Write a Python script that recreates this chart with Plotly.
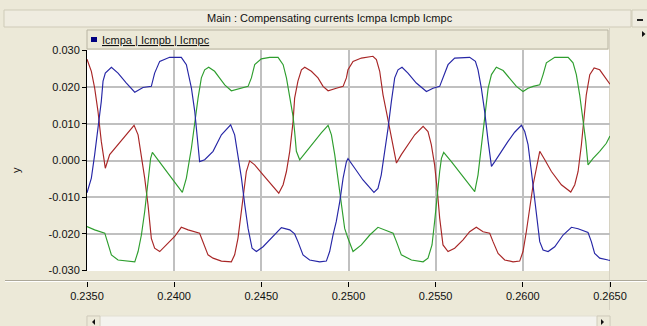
import plotly.graph_objects as go

# ---------------- data ----------------
red_t = [0.23500, 0.23525, 0.23544, 0.23563, 0.23582, 0.23605, 0.23630, 0.23678, 0.23726, 0.23770,
         0.23793, 0.23812, 0.23831, 0.23850, 0.23869, 0.23888, 0.23917, 0.23955, 0.24003, 0.24041,
         0.24080, 0.24146, 0.24166, 0.24194, 0.24223, 0.24271, 0.24328, 0.24347, 0.24366, 0.24386,
         0.24401, 0.24414, 0.24433, 0.24462, 0.24510, 0.24558, 0.24600, 0.24625, 0.24644, 0.24663,
         0.24682, 0.24691, 0.24710, 0.24730, 0.24749, 0.24787, 0.24825, 0.24854, 0.24883, 0.24930,
         0.24969, 0.24988, 0.24997, 0.25026, 0.25074, 0.25140, 0.25160, 0.25179, 0.25198, 0.25217,
         0.25236, 0.25256, 0.25275, 0.25303, 0.25342, 0.25380, 0.25428, 0.25456, 0.25475, 0.25494,
         0.25510, 0.25523, 0.25542, 0.25571, 0.25609, 0.25657, 0.25695, 0.25733, 0.25772, 0.25810,
         0.25829, 0.25858, 0.25896, 0.25944, 0.25982, 0.26001, 0.26020, 0.26040, 0.26059, 0.26078,
         0.26097, 0.26126, 0.26164, 0.26221, 0.26275, 0.26298, 0.26317, 0.26336, 0.26351, 0.26364,
         0.26384, 0.26409, 0.26441, 0.26470, 0.26500]
red_y = [0.0276, 0.0243, 0.0197, 0.0134, 0.0052, -0.0021, 0.0016, 0.0043, 0.0070, 0.0096,
         0.0070, 0.0016, -0.0048, -0.0121, -0.0212, -0.0239, -0.0248, -0.0230, -0.0207, -0.0182,
         -0.0189, -0.0198, -0.0221, -0.0257, -0.0266, -0.0274, -0.0276, -0.0257, -0.0212, -0.0139,
         -0.0085, -0.0030, -0.0001, -0.0012, -0.0039, -0.0066, -0.0089, -0.0066, -0.0030, 0.0025,
         0.0106, 0.0170, 0.0216, 0.0247, 0.0254, 0.0243, 0.0225, 0.0202, 0.0190, 0.0197,
         0.0202, 0.0225, 0.0247, 0.0270, 0.0279, 0.0284, 0.0275, 0.0243, 0.0179, 0.0134,
         0.0088, 0.0034, -0.0007, 0.0016, 0.0043, 0.0070, 0.0093, 0.0079, 0.0043, -0.0012,
         -0.0085, -0.0157, -0.0230, -0.0248, -0.0239, -0.0216, -0.0194, -0.0182, -0.0194, -0.0198,
         -0.0221, -0.0253, -0.0271, -0.0276, -0.0274, -0.0248, -0.0194, -0.0130, -0.0066, -0.0021,
         0.0025, 0.0002, -0.0030, -0.0066, -0.0086, -0.0066, -0.0030, 0.0043, 0.0116, 0.0179,
         0.0234, 0.0252, 0.0247, 0.0229, 0.0208]

blue_t = [0.23500, 0.23525, 0.23544, 0.23563, 0.23582, 0.23592, 0.23605, 0.23640, 0.23678, 0.23726,
          0.23774, 0.23821, 0.23869, 0.23888, 0.23917, 0.23974, 0.24041, 0.24070, 0.24099, 0.24118,
          0.24133, 0.24146, 0.24175, 0.24223, 0.24271, 0.24324, 0.24347, 0.24366, 0.24386, 0.24405,
          0.24424, 0.24447, 0.24472, 0.24510, 0.24558, 0.24615, 0.24663, 0.24691, 0.24710, 0.24739,
          0.24777, 0.24835, 0.24873, 0.24892, 0.24911, 0.24930, 0.24950, 0.24969, 0.24988, 0.24997,
          0.25036, 0.25083, 0.25146, 0.25169, 0.25188, 0.25208, 0.25227, 0.25246, 0.25265, 0.25284,
          0.25307, 0.25341, 0.25389, 0.25447, 0.25485, 0.25523, 0.25542, 0.25571, 0.25609, 0.25695,
          0.25728, 0.25743, 0.25762, 0.25781, 0.25801, 0.25820, 0.25839, 0.25877, 0.25915, 0.25953,
          0.25992, 0.26011, 0.26030, 0.26049, 0.26064, 0.26078, 0.26097, 0.26116, 0.26145, 0.26183,
          0.26231, 0.26279, 0.26317, 0.26374, 0.26393, 0.26412, 0.26441, 0.26489, 0.26500]
blue_y = [-0.0088, -0.0048, 0.0016, 0.0088, 0.0161, 0.0216, 0.0238, 0.0254, 0.0238, 0.0211,
          0.0186, 0.0199, 0.0202, 0.0238, 0.0270, 0.0281, 0.0281, 0.0261, 0.0197, 0.0134,
          0.0061, -0.0003, 0.0002, 0.0025, 0.0070, 0.0097, 0.0070, 0.0016, -0.0048, -0.0121,
          -0.0185, -0.0239, -0.0248, -0.0235, -0.0212, -0.0183, -0.0189, -0.0200, -0.0221, -0.0257,
          -0.0271, -0.0276, -0.0274, -0.0248, -0.0203, -0.0166, -0.0112, -0.0048, -0.0003, 0.0005,
          -0.0021, -0.0053, -0.0087, -0.0076, -0.0039, 0.0025, 0.0088, 0.0161, 0.0225, 0.0247,
          0.0254, 0.0238, 0.0211, 0.0188, 0.0197, 0.0202, 0.0225, 0.0261, 0.0279, 0.0281,
          0.0270, 0.0247, 0.0197, 0.0134, 0.0052, -0.0016, -0.0003, 0.0025, 0.0052, 0.0077,
          0.0096, 0.0079, 0.0043, -0.0030, -0.0085, -0.0148, -0.0221, -0.0244, -0.0248, -0.0235,
          -0.0203, -0.0182, -0.0186, -0.0196, -0.0221, -0.0253, -0.0266, -0.0271, -0.0272]

green_t = [0.23500, 0.23544, 0.23602, 0.23621, 0.23640, 0.23678, 0.23774, 0.23793, 0.23812, 0.23831,
           0.23850, 0.23865, 0.23875, 0.23908, 0.23965, 0.24047, 0.24070, 0.24099, 0.24118, 0.24137,
           0.24156, 0.24175, 0.24198, 0.24232, 0.24260, 0.24290, 0.24328, 0.24376, 0.24424, 0.24443,
           0.24462, 0.24500, 0.24548, 0.24596, 0.24625, 0.24644, 0.24663, 0.24682, 0.24691, 0.24701,
           0.24720, 0.24758, 0.24806, 0.24844, 0.24883, 0.24902, 0.24921, 0.24940, 0.24959, 0.24978,
           0.24997, 0.25026, 0.25074, 0.25122, 0.25169, 0.25208, 0.25256, 0.25275, 0.25303, 0.25361,
           0.25428, 0.25456, 0.25479, 0.25494, 0.25510, 0.25523, 0.25533, 0.25546, 0.25590, 0.25647,
           0.25695, 0.25724, 0.25743, 0.25762, 0.25781, 0.25801, 0.25820, 0.25848, 0.25887, 0.25925,
           0.25963, 0.26001, 0.26030, 0.26059, 0.26097, 0.26116, 0.26135, 0.26183, 0.26260, 0.26288,
           0.26307, 0.26326, 0.26345, 0.26361, 0.26374, 0.26403, 0.26441, 0.26479, 0.26500]
green_y = [-0.0180, -0.0189, -0.0198, -0.0230, -0.0257, -0.0271, -0.0276, -0.0248, -0.0203, -0.0139,
           -0.0066, 0.0006, 0.0022, 0.0002, -0.0035, -0.0087, -0.0048, 0.0034, 0.0106, 0.0170,
           0.0225, 0.0247, 0.0254, 0.0243, 0.0225, 0.0206, 0.0190, 0.0197, 0.0202, 0.0225,
           0.0261, 0.0277, 0.0281, 0.0281, 0.0261, 0.0225, 0.0170, 0.0120, 0.0079, 0.0025,
           0.0002, 0.0025, 0.0052, 0.0075, 0.0096, 0.0070, 0.0016, -0.0048, -0.0112, -0.0185,
           -0.0212, -0.0248, -0.0230, -0.0203, -0.0182, -0.0189, -0.0198, -0.0221, -0.0257, -0.0271,
           -0.0276, -0.0266, -0.0230, -0.0166, -0.0085, -0.0030, 0.0006, 0.0022, -0.0003, -0.0039,
           -0.0066, -0.0085, -0.0039, 0.0043, 0.0125, 0.0197, 0.0234, 0.0254, 0.0245, 0.0225,
           0.0202, 0.0188, 0.0197, 0.0202, 0.0206, 0.0234, 0.0266, 0.0281, 0.0281, 0.0266,
           0.0234, 0.0179, 0.0116, 0.0052, -0.0012, 0.0006, 0.0025, 0.0047, 0.0067]

x_tickvals = [0.235, 0.240, 0.245, 0.250, 0.255, 0.260, 0.265]
x_ticktext = ["0.2350", "0.2400", "0.2450", "0.2500", "0.2550", "0.2600", "0.2650"]
y_tickvals = [-0.03, -0.02, -0.01, 0.0, 0.01, 0.02, 0.03]
y_ticktext = ["-0.030", "-0.020", "-0.010", "0.000", "0.010", "0.020", "0.030"]

title_text = "Main : Compensating currents Icmpa Icmpb Icmpc"
legend_text = "Icmpa | Icmpb | Icmpc"
y_title = "y"

# ---------------- layout geometry ----------------
W, H = 647, 326
ML, MR, MT, MB = 87, 37, 50, 45
PW = W - ML - MR          # 523
PH = H - MT - MB          # 231
FONT = "Liberation Sans, Arial, sans-serif"
BG = "#ECE9D8"


def px(xp):
    return (xp - ML) / PW


def py(yp):
    return (H - MB - yp) / PH


fig = go.Figure()
line_w = 1.15
fig.add_trace(go.Scatter(x=red_t, y=red_y, mode="lines", line=dict(color="#a82626", width=line_w),
                         name="Icmpb", showlegend=False, hoverinfo="skip"))
fig.add_trace(go.Scatter(x=green_t, y=green_y, mode="lines", line=dict(color="#2e9e2e", width=line_w),
                         name="Icmpc", showlegend=False, hoverinfo="skip"))
fig.add_trace(go.Scatter(x=blue_t, y=blue_y, mode="lines", line=dict(color="#2626a6", width=line_w),
                         name="Icmpa", showlegend=False, hoverinfo="skip"))
# carrier trace for the lower tick axis
fig.add_trace(go.Scatter(x=[x_tickvals[0]], y=[None], xaxis="x2", mode="lines",
                         showlegend=False, hoverinfo="skip"))

plot_bottom = 10 / PH

shapes = []
# title bar
shapes.append(dict(type="rect", xref="paper", yref="paper", x0=px(4), x1=px(631), y0=py(27), y1=py(10),
                   fillcolor="#EFECE0", line=dict(color="#CFCBB8", width=1), layer="below"))
# minimize button
shapes.append(dict(type="rect", xref="paper", yref="paper", x0=px(632), x1=px(648), y0=py(27), y1=py(10),
                   fillcolor="#EFECE0", line=dict(color="#CFCBB8", width=1), layer="below"))
shapes.append(dict(type="line", xref="paper", yref="paper", x0=px(637), x1=px(643), y0=py(20), y1=py(20),
                   line=dict(color="#222222", width=2)))
# legend strip
shapes.append(dict(type="rect", xref="paper", yref="paper", x0=px(87), x1=px(608), y0=py(49), y1=py(30),
                   fillcolor=BG, line=dict(color="#B8B4A2", width=1)))
shapes.append(dict(type="rect", xref="paper", yref="paper", x0=px(91), x1=px(97), y0=py(42), y1=py(37),
                   fillcolor="#000080", line=dict(width=0)))
# right panel border
shapes.append(dict(type="line", xref="paper", yref="paper", x0=px(609.5), x1=px(609.5), y0=py(310), y1=py(28),
                   line=dict(color="#D6D2C2", width=1), layer="below"))
# small arrow at right top
shapes.append(dict(type="path", xref="paper", yref="paper",
                   path=f"M {px(642)} {py(31)} L {px(645.5)} {py(34)} L {px(642)} {py(37)} Z",
                   fillcolor="#111111", line=dict(width=0)))
# separator line above x labels
shapes.append(dict(type="line", xref="paper", yref="paper", x0=px(5), x1=px(648), y0=py(280.5), y1=py(280.5),
                   line=dict(color="#ACA899", width=1)))
shapes.append(dict(type="line", xref="paper", yref="paper", x0=px(5), x1=px(648), y0=py(281.5), y1=py(281.5),
                   line=dict(color="#FFFFFF", width=1)))
# scrollbar
shapes.append(dict(type="rect", xref="paper", yref="paper", x0=px(87), x1=px(610), y0=py(330), y1=py(316),
                   fillcolor="#F4F3EE", line=dict(color="#E2DFD2", width=1)))
shapes.append(dict(type="rect", xref="paper", yref="paper", x0=px(87), x1=px(100), y0=py(330), y1=py(316),
                   fillcolor=BG, line=dict(color="#D0CCBB", width=1)))
shapes.append(dict(type="rect", xref="paper", yref="paper", x0=px(597), x1=px(610), y0=py(330), y1=py(316),
                   fillcolor=BG, line=dict(color="#D0CCBB", width=1)))
shapes.append(dict(type="path", xref="paper", yref="paper",
                   path=f"M {px(95)} {py(319)} L {px(92)} {py(322)} L {px(95)} {py(325)} Z",
                   fillcolor="#111111", line=dict(width=0)))
shapes.append(dict(type="path", xref="paper", yref="paper",
                   path=f"M {px(601)} {py(319)} L {px(604)} {py(322)} L {px(601)} {py(325)} Z",
                   fillcolor="#111111", line=dict(width=0)))

annotations = [
    dict(text=title_text, xref="paper", yref="paper", x=px(330), y=py(18.5), xanchor="center",
         yanchor="middle", showarrow=False, font=dict(family=FONT, size=11, color="#111111")),
    dict(text="<u>" + legend_text + "</u>", xref="paper", yref="paper", x=px(100), y=py(39.5),
         xanchor="left", yanchor="middle", showarrow=False, font=dict(family=FONT, size=11, color="#111111")),
    dict(text=y_title, xref="paper", yref="paper", x=px(16), y=py(170), xanchor="center",
         yanchor="middle", textangle=-90, showarrow=False, font=dict(family=FONT, size=11, color="#111111")),
]

fig.update_layout(
    width=W, height=H,
    margin=dict(l=ML, r=MR, t=MT, b=MB, pad=0),
    paper_bgcolor=BG, plot_bgcolor="white",
    showlegend=False,
    font=dict(family=FONT, size=11, color="#111111"),
    shapes=shapes,
    annotations=annotations,
    xaxis=dict(range=[0.235, 0.265], showgrid=True, gridcolor="#C0C0C0", gridwidth=2,
               showticklabels=False, ticks="", zeroline=False, showline=False,
               tickvals=x_tickvals, anchor="y"),
    xaxis2=dict(range=[0.235, 0.265], overlaying="x", anchor="free", position=0,
                showgrid=False, zeroline=False, showline=False,
                tickvals=x_tickvals, ticktext=x_ticktext, ticks="outside", ticklen=5,
                tickcolor="#000000", tickwidth=1,
                tickfont=dict(family=FONT, size=11, color="#111111")),
    yaxis=dict(range=[-0.0301, 0.0301], domain=[plot_bottom, 1], showgrid=True, gridcolor="#C0C0C0",
               gridwidth=2, zeroline=False, showline=True, linecolor="#000000", linewidth=1,
               tickvals=y_tickvals, ticktext=y_ticktext, ticks="outside", ticklen=4,
               tickcolor="#000000", tickfont=dict(family=FONT, size=11, color="#111111")),
)

fig.write_html("out.html", config={"displayModeBar": False},
               post_script="document.body.style.margin='0';document.body.style.overflow='hidden';")
